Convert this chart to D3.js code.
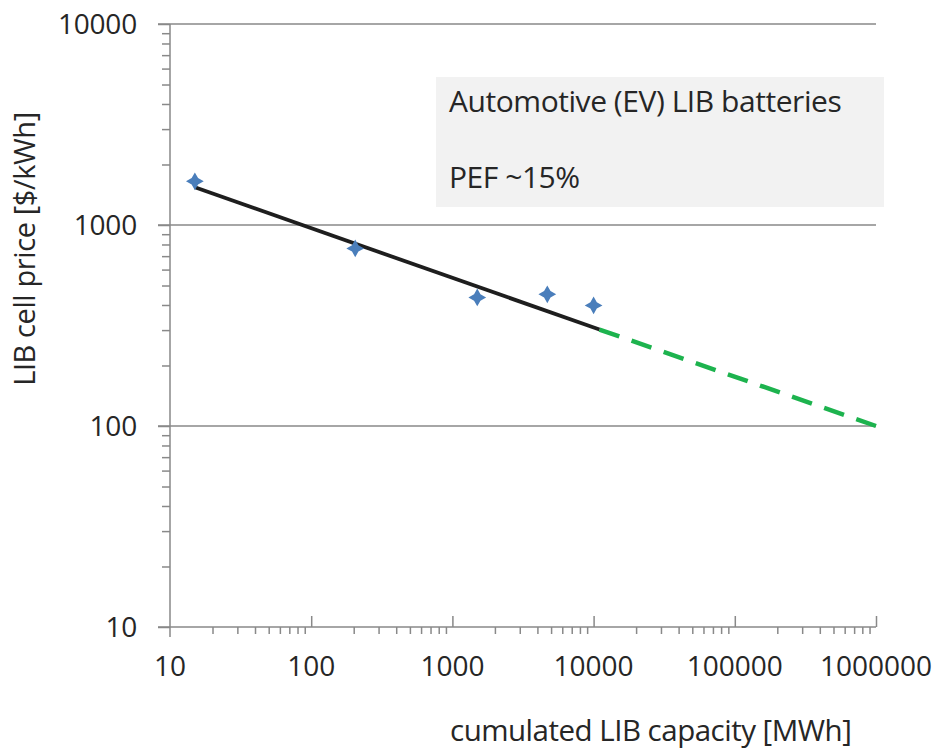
<!DOCTYPE html>
<html>
<head>
<meta charset="utf-8">
<script src="https://cdn.jsdelivr.net/npm/d3@7"></script>
<style>
  html, body { margin: 0; padding: 0; background: #fff; }
  svg text { font-family: "Open Sans", Lato, "Liberation Sans", sans-serif; fill: #262626; }
</style>
</head>
<body>
<svg id="chart" width="937" height="749"></svg>
<script>
// ---- data ----
const capacityMWh = [15, 205, 1500, 4700, 10000];
const cellPrice   = [1650, 765, 436, 452, 398];
const fitCapacity = [15, 11000];
const fitPrice    = [1540, 302];
const projCapacity = [11000, 1000000];
const projPrice    = [302, 100];
const xTickValues = [10, 100, 1000, 10000, 100000, 1000000];
const yTickValues = [10, 100, 1000, 10000];
const boxLines = ["Automotive (EV) LIB batteries", "PEF ~15%"];
const xTitle = "cumulated LIB capacity [MWh]";
const yTitle = "LIB cell price [$/kWh]";

// ---- layout ----
const svg = d3.select("#chart");
const plotL = 170, plotR = 876, plotT = 24, plotB = 627;
const x = d3.scaleLog().domain([10, 1000000]).range([plotL, plotR]);
const y = d3.scaleLog().domain([10, 10000]).range([plotB, plotT]);
const axisColor = "#898989";

function minors(domain) {
  const out = [];
  for (let d = domain[0]; d < domain[1]; d *= 10)
    for (let k = 2; k <= 9; k++) out.push(d * k);
  return out;
}

// horizontal gridlines
svg.append("g").selectAll("line").data(yTickValues.filter(v => v > 10)).join("line")
  .attr("x1", plotL - 12).attr("x2", plotR)
  .attr("y1", d => y(d)).attr("y2", d => y(d))
  .attr("stroke", axisColor).attr("stroke-width", 1.5);

// y axis: major + minor ticks
const yMajor = svg.append("g").attr("transform", `translate(${plotL},0)`)
  .call(d3.axisLeft(y).tickValues(yTickValues).tickSize(12).tickFormat(""));
const yMinor = svg.append("g").attr("transform", `translate(${plotL},0)`)
  .call(d3.axisLeft(y).tickValues(minors([10, 10000])).tickSize(8).tickFormat(""));
[yMajor, yMinor].forEach(g => {
  g.select(".domain").remove();
  g.selectAll("line").attr("stroke", axisColor).attr("stroke-width", 1.5);
});
svg.append("line").attr("x1", plotL).attr("x2", plotL).attr("y1", plotT).attr("y2", plotB + 10)
  .attr("stroke", axisColor).attr("stroke-width", 1.5);

// x axis line + ticks
svg.append("line").attr("x1", plotL - 12).attr("x2", plotR).attr("y1", plotB).attr("y2", plotB)
  .attr("stroke", axisColor).attr("stroke-width", 1.5);
const xMajor = svg.append("g").attr("transform", `translate(0,${plotB})`)
  .call(d3.axisBottom(x).tickValues(xTickValues.slice(1)).tickSize(-11).tickFormat(""));
const xMinor = svg.append("g").attr("transform", `translate(0,${plotB})`)
  .call(d3.axisBottom(x).tickValues(minors([10, 1000000])).tickSize(7).tickFormat(""));
[xMajor, xMinor].forEach(g => {
  g.select(".domain").remove();
  g.selectAll("line").attr("stroke", axisColor).attr("stroke-width", 1.5);
});

// tick labels
svg.append("g").selectAll("text").data(yTickValues).join("text")
  .attr("x", plotL - 33).attr("y", d => y(d)).attr("dy", "0.36em")
  .attr("text-anchor", "end").attr("font-size", 28).attr("letter-spacing", -0.2).text(d => d);
svg.append("g").selectAll("text").data(xTickValues).join("text")
  .attr("x", d => x(d)).attr("y", 676)
  .attr("text-anchor", "middle").attr("font-size", 28).attr("letter-spacing", 0).text(d => d);

// axis titles
svg.append("text").attr("x", 450).attr("y", 741).attr("font-size", 29.5)
  .attr("letter-spacing", -0.5).text(xTitle);
svg.append("text").attr("transform", "translate(35,249) rotate(-90)")
  .attr("text-anchor", "middle").attr("font-size", 29).attr("letter-spacing", -0.4).text(yTitle);

// annotation box
svg.append("rect").attr("x", 436).attr("y", 77).attr("width", 448).attr("height", 130)
  .attr("fill", "#f2f2f2");
svg.append("g").selectAll("text").data(boxLines).join("text")
  .attr("x", 449).attr("y", (d, i) => 112 + i * 76)
  .attr("font-size", 30).attr("letter-spacing", -0.45).text(d => d);

// projection (dashed green)
const line = d3.line().x(d => x(d[0])).y(d => y(d[1]));
svg.append("path").datum(d3.zip(projCapacity, projPrice))
  .attr("d", line).attr("fill", "none").attr("stroke", "#1db34e")
  .attr("stroke-width", 4.5).attr("stroke-dasharray", "21,13");

// fit line (black)
svg.append("path").datum(d3.zip(fitCapacity, fitPrice))
  .attr("d", line).attr("fill", "none").attr("stroke", "#1e1e1e")
  .attr("stroke-width", 3.8);

// data points: 4-point star diamonds
const star4 = {
  draw(ctx, size) {
    const r = Math.sqrt(size) * 0.75, c = r * 0.36;
    ctx.moveTo(0, -r);
    ctx.lineTo(c, -c); ctx.lineTo(r, 0); ctx.lineTo(c, c);
    ctx.lineTo(0, r); ctx.lineTo(-c, c); ctx.lineTo(-r, 0); ctx.lineTo(-c, -c);
    ctx.closePath();
  }
};
svg.append("g").selectAll("path").data(d3.zip(capacityMWh, cellPrice)).join("path")
  .attr("transform", d => `translate(${x(d[0])},${y(d[1])})`)
  .attr("d", d3.symbol().type(star4).size(140))
  .attr("fill", "#4a7ebb");
</script>
</body>
</html>
